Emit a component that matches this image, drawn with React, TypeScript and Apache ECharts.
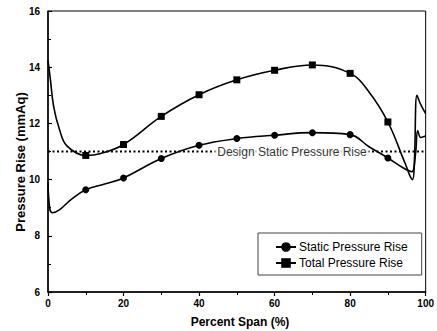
import React, { useEffect, useRef } from 'react';
import * as echarts from 'echarts';

const markerSpans = [10, 20, 30, 40, 50, 60, 70, 80, 90];

const staticCurve: [number, number][] = [
  [0, 9.9], [0.5, 8.95], [1.2, 8.82], [3, 8.92], [6, 9.28], [10, 9.64],
  [15, 9.84], [20, 10.06], [30, 10.75], [40, 11.22],
  [50, 11.46], [60, 11.58], [70, 11.67], [80, 11.6], [85, 11.17],
  [90, 10.77], [94, 10.42], [96.3, 10.28], [97.3, 10.9], [97.9, 11.75],
  [98.7, 11.5], [100, 11.55],
];

const totalCurve: [number, number][] = [
  [0, 14.25], [0.6, 13.6], [1.5, 12.6], [3, 11.8], [5, 11.2],
  [10, 10.86], [14, 10.93], [20, 11.25], [30, 12.25],
  [40, 13.02], [50, 13.55], [60, 13.89], [70, 14.08], [80, 13.78],
  [85, 13.12], [90, 12.05], [94.5, 10.6], [96.5, 10.0], [97.0, 10.6],
  [97.7, 13.0], [98.6, 12.7], [100, 12.35],
];

const designValue = 11;
const designLabelSpan = 64.6;
const seriesNames = ['Static Pressure Rise', 'Total Pressure Rise'];
const axisTitles = { x: 'Percent Span (%)', y: 'Pressure Rise (mmAq)' };
const designLabel = 'Design Static Pressure Rise';

const FONT = 'Arial, "Liberation Sans", sans-serif';

function toItems(curve: [number, number][], symbol: string) {
  return curve.map(([x, y]) =>
    markerSpans.includes(x)
      ? { value: [x, y], symbol, symbolSize: 7 }
      : { value: [x, y], symbol: 'none', symbolSize: 0 }
  );
}

export default function App() {
  const ref = useRef<HTMLDivElement>(null);
  useEffect(() => {
    if (!ref.current) return;
    const chart = echarts.init(ref.current, null, { renderer: 'svg' });
    const line = { color: '#000', width: 1.6 };
    chart.setOption({
      animation: false,
      backgroundColor: '#fff',
      grid: { left: 48, top: 11, right: 1, bottom: 39, show: true, borderColor: '#000', borderWidth: 1 },
      legend: {
        orient: 'vertical',
        left: 258,
        top: 233,
        data: seriesNames,
        itemWidth: 20,
        itemHeight: 12,
        itemGap: 4,
        padding: [8, 14, 6, 17],
        borderColor: '#444',
        borderWidth: 1,
        textStyle: { fontFamily: FONT, fontSize: 12, color: '#000', padding: [0, 0, 0, -2] },
      },
      xAxis: {
        type: 'value',
        min: 0,
        max: 100,
        interval: 20,
        axisLine: { lineStyle: { color: '#000', width: 1.5 } },
        axisTick: { show: true, inside: false, length: 4, lineStyle: { color: '#000', width: 1.2 } },
        minorTick: { show: true, splitNumber: 2, length: 3, lineStyle: { color: '#000' } },
        splitLine: { show: false },
        axisLabel: {
          fontFamily: FONT, fontSize: 10, fontWeight: 'bold', color: '#000', margin: 6,
          alignMinLabel: 'center', alignMaxLabel: 'center',
        },
      },
      yAxis: {
        type: 'value',
        min: 6,
        max: 16,
        interval: 2,
        axisLine: { show: true, lineStyle: { color: '#000', width: 1.5 } },
        axisTick: { show: true, inside: true, length: 4, lineStyle: { color: '#000', width: 1.2 } },
        minorTick: { show: true, splitNumber: 2, length: 3, lineStyle: { color: '#000' } },
        splitLine: { show: false },
        axisLabel: { fontFamily: FONT, fontSize: 10, fontWeight: 'bold', color: '#000', margin: 8 },
      },
      graphic: [
        {
          type: 'text',
          x: 20,
          y: 162,
          rotation: Math.PI / 2,
          style: {
            text: axisTitles.y,
            fontFamily: FONT,
            fontSize: 13,
            fontWeight: 'bold',
            fill: '#000',
            align: 'center',
            verticalAlign: 'middle',
          },
        },
        {
          type: 'text',
          x: 240,
          y: 322,
          style: {
            text: axisTitles.x,
            fontFamily: FONT,
            fontSize: 12,
            fontWeight: 'bold',
            fill: '#000',
            align: 'center',
            verticalAlign: 'middle',
          },
        },
      ],
      series: [
        {
          name: 'design',
          type: 'line',
          data: [[0, designValue], [100, designValue]],
          symbol: 'none',
          lineStyle: { color: '#000', width: 2, type: [2, 2.5] },
          silent: true,
          z: 1,
        },
        {
          name: 'designLabel',
          type: 'scatter',
          data: [[designLabelSpan, designValue]],
          symbolSize: 0,
          silent: true,
          z: 3,
          label: {
            show: true,
            position: 'inside',
            formatter: designLabel,
            fontFamily: FONT,
            fontSize: 12,
            color: '#000',
            backgroundColor: '#fff',
            padding: [0, 2],
          },
        },
        {
          name: seriesNames[0],
          type: 'line',
          data: toItems(staticCurve, 'circle'),
          symbol: 'circle',
          symbolSize: 7,
          smooth: 0.4,
          lineStyle: line,
          itemStyle: { color: '#000' },
          z: 4,
        },
        {
          name: seriesNames[1],
          type: 'line',
          data: toItems(totalCurve, 'rect'),
          symbol: 'rect',
          symbolSize: 7,
          smooth: 0.4,
          lineStyle: line,
          itemStyle: { color: '#000' },
          z: 4,
        },
      ],
    });
    return () => chart.dispose();
  }, []);
  return <div ref={ref} style={{ position: 'fixed', left: 0, top: 0, width: 437, height: 331 }} />;
}
